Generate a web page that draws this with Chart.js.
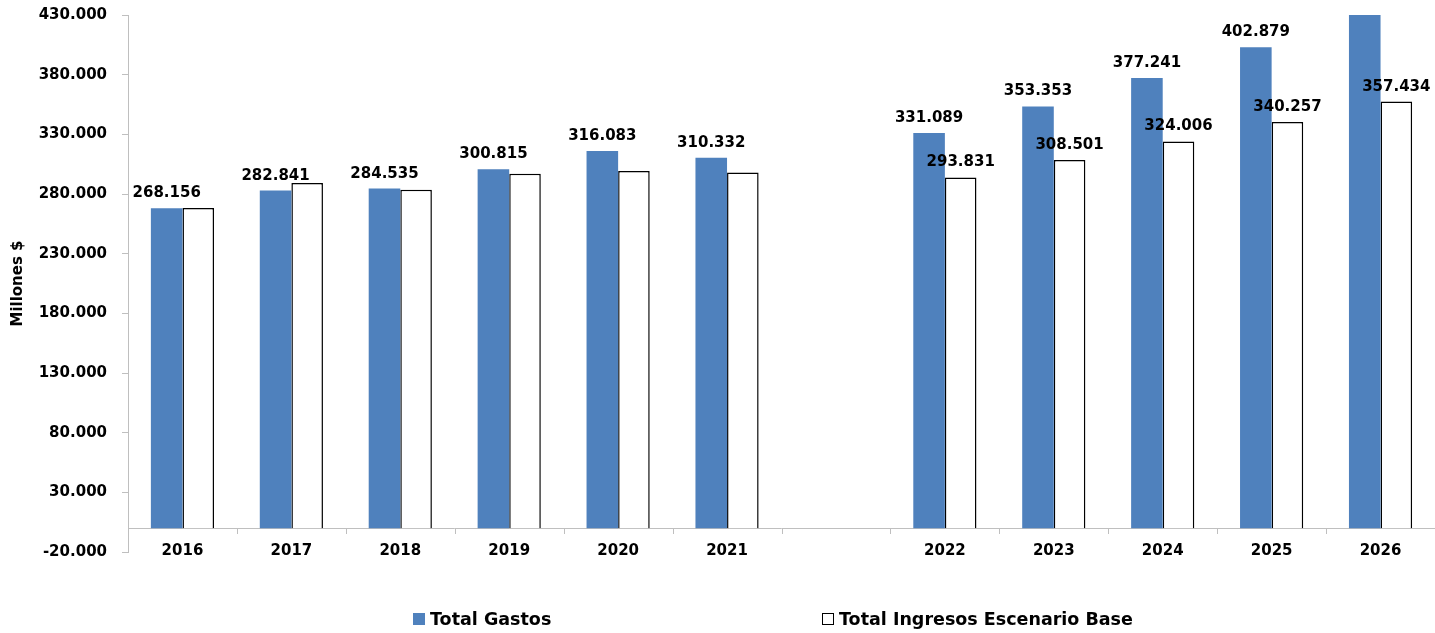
<!DOCTYPE html>
<html>
<head>
<meta charset="utf-8">
<script src="https://cdn.jsdelivr.net/npm/chart.js@4.4.1/dist/chart.umd.min.js"></script>
<style>
    body { margin: 0; background: #fff; }
    #wrap { position: relative; width: 1435px; height: 633px; }
    .legend-item {
        position: absolute; top: 609px;
        font-family: "DejaVu Sans", sans-serif; font-size: 17.5px; font-weight: bold; color: #000;
        display: flex; align-items: center; white-space: nowrap;
    }
    .legend-item span.box { display: inline-block; width: 12px; height: 12px; margin-right: 5px; box-sizing: border-box; }
</style>
</head>
<body>
<div id="wrap">
    <canvas id="gastosChart" width="1435" height="633"></canvas>
    <div class="legend-item" style="left: 413px;"><span class="box" style="background:#4F81BD;"></span>Total Gastos</div>
    <div class="legend-item" style="left: 822px;"><span class="box" style="background:#fff;border:1.5px solid #000;"></span>Total Ingresos Escenario Base</div>
</div>
<script>
// categories (empty slot between history and projection)
const years = ['2016', '2017', '2018', '2019', '2020', '2021', '', '2022', '2023', '2024', '2025', '2026'];
const totalGastos = [268156, 282841, 284535, 300815, 316083, 310332, null, 331089, 353353, 377241, 402879, 431500];
const totalIngresos = [268200, 289200, 283600, 297000, 299200, 298100, null, 293831, 308501, 324006, 340257, 357434];
// ingresos only get a label on the projected years
const ingresosLabelYears = ['2022', '2023', '2024', '2025', '2026'];
const yTickValues = [-20000, 30000, 80000, 130000, 180000, 230000, 280000, 330000, 380000, 430000];

const FONT = '"DejaVu Sans", sans-serif';

function formatMiles(v) {
    const sign = v < 0 ? '-' : '';
    return sign + String(Math.abs(Math.round(v))).replace(/\B(?=(\d{3})+(?!\d))/g, '.');
}

// zero line + category separators, drawn like Excel's category axis crossing at 0
const zeroAxisPlugin = {
    id: 'zeroAxis',
    beforeDatasetsDraw(chart) {
        const { ctx, scales: { x, y } } = chart;
        const y0 = Math.round(y.getPixelForValue(0));
        ctx.save();
        ctx.strokeStyle = '#bfbfbf';
        ctx.lineWidth = 1;
        ctx.beginPath();
        ctx.moveTo(x.left, y0 + 0.5);
        ctx.lineTo(x.right, y0 + 0.5);
        for (let i = 1; i < years.length; i++) {
            const px = Math.round(x.getPixelForValue(i - 0.5)) + 0.5;
            ctx.moveTo(px, y0);
            ctx.lineTo(px, y0 + 6);
        }
        ctx.stroke();
        ctx.restore();
    }
};

const valueLabelsPlugin = {
    id: 'valueLabels',
    afterDatasetsDraw(chart) {
        const { ctx, scales: { y } } = chart;
        ctx.save();
        ctx.font = 'bold 15px ' + FONT;
        ctx.fillStyle = '#000';
        ctx.textAlign = 'center';
        ctx.textBaseline = 'alphabetic';
        chart.data.datasets.forEach((ds, di) => {
            const meta = chart.getDatasetMeta(di);
            meta.data.forEach((bar, i) => {
                const v = ds.data[i];
                if (v == null || v > y.max) return;
                if (di === 1 && !ingresosLabelYears.includes(years[i])) return;
                ctx.fillText(formatMiles(v), bar.x, bar.y - 11);
            });
        });
        ctx.restore();
    }
};

new Chart(document.getElementById('gastosChart'), {
    type: 'bar',
    data: {
        labels: years,
        datasets: [
            {
                label: 'Total Gastos',
                data: totalGastos,
                backgroundColor: '#4F81BD',
                borderWidth: 0,
                categoryPercentage: 0.58,
                barPercentage: 1.0
            },
            {
                label: 'Total Ingresos Escenario Base',
                data: totalIngresos,
                backgroundColor: '#ffffff',
                borderColor: '#000000',
                borderWidth: 1.5,
                categoryPercentage: 0.58,
                barPercentage: 1.0
            }
        ]
    },
    options: {
        responsive: false,
        animation: false,
        layout: { padding: { top: 15, right: 0, bottom: 81, left: 0 } },
        plugins: {
            legend: { display: false },
            tooltip: { enabled: false }
        },
        scales: {
            x: {
                afterFit(axis) { axis.height = 0; },
                grid: { display: false, drawTicks: false },
                border: { display: false },
                ticks: { color: '#000', font: { family: FONT, size: 15, weight: 'bold' }, mirror: true, padding: -8, maxRotation: 0 }
            },
            y: {
                min: -20000,
                max: 430000,
                afterBuildTicks(axis) {
                    axis.ticks = yTickValues.map(v => ({ value: v }));
                },
                afterFit(axis) {
                    axis.width = 128;
                    axis.paddingTop = 0;
                    axis.paddingBottom = 0;
                },
                grid: { drawOnChartArea: false, drawTicks: true, tickLength: 6, color: '#bfbfbf' },
                border: { color: '#bfbfbf' },
                ticks: {
                    color: '#000',
                    padding: 15,
                    font: { family: FONT, size: 15, weight: 'bold' },
                    callback: v => formatMiles(v)
                },
                title: {
                    display: true,
                    text: 'Millones $',
                    color: '#000',
                    font: { family: FONT, size: 15, weight: 'bold' },
                    padding: { top: 9, bottom: 0 }
                }
            }
        }
    },
    plugins: [zeroAxisPlugin, valueLabelsPlugin]
});
</script>
</body>
</html>
